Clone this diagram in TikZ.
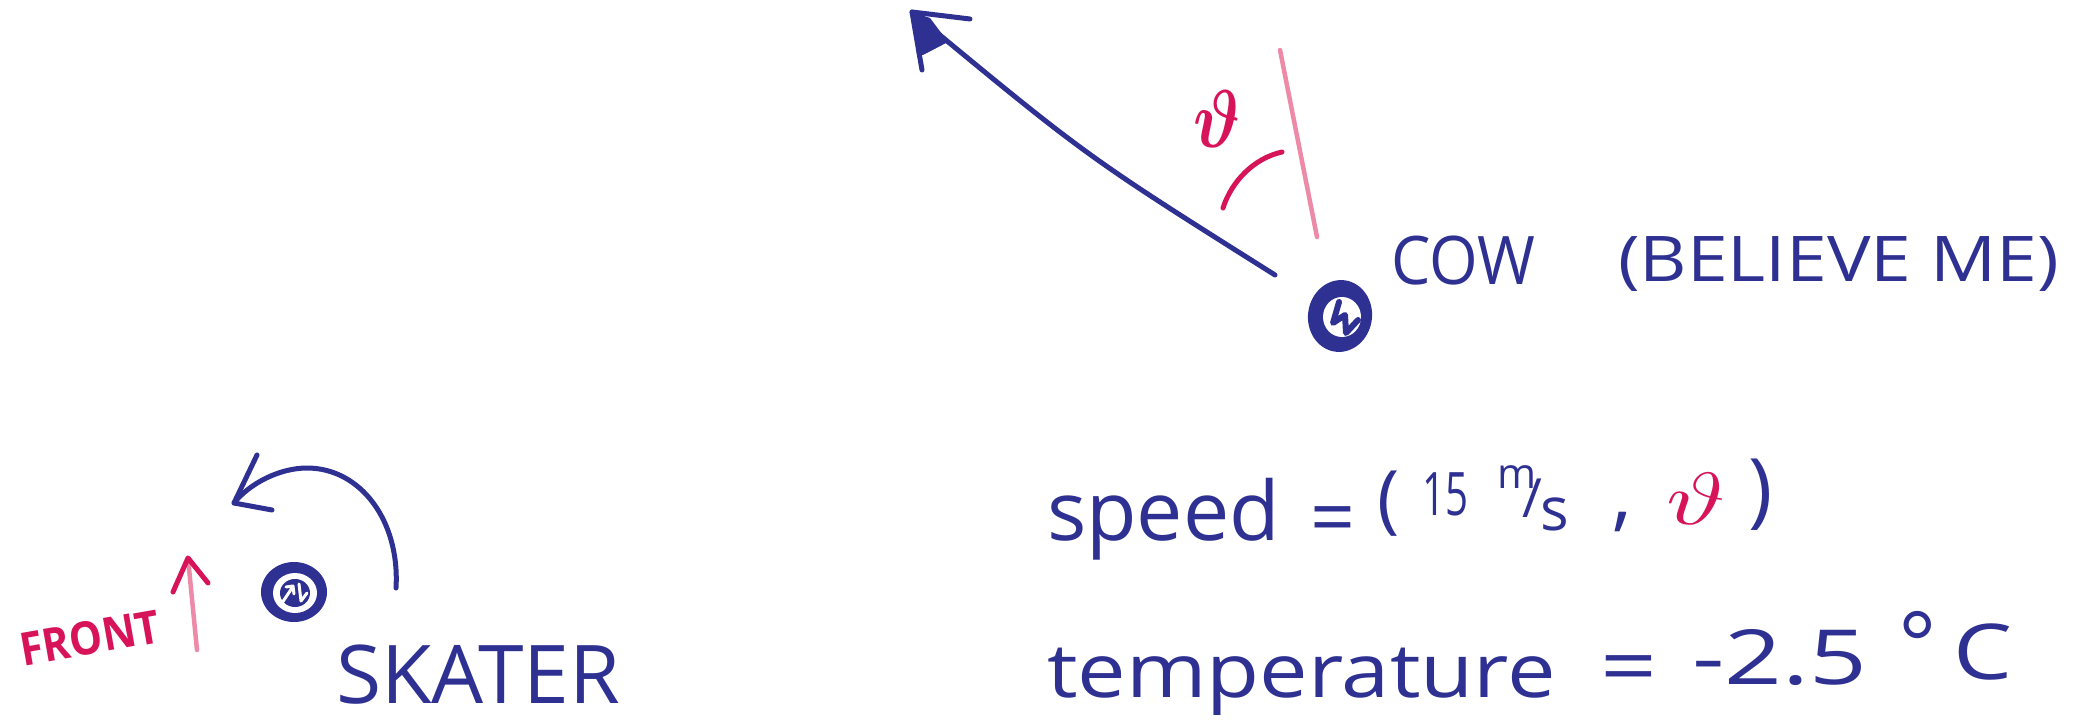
\documentclass[tikz,border=0pt]{standalone}
\usepackage{fontspec}
\setmainfont{Open Sans}
\usepackage{graphicx}
\usetikzlibrary{shapes.geometric}
\definecolor{inkblue}{HTML}{2E3192}
\definecolor{inkred}{HTML}{D7145A}
\definecolor{palered}{HTML}{EC8AA8}
\newcommand{\fitw}[2]{\resizebox{#1}{\height}{#2}}
\newcommand{\fs}[1]{\fontsize{#1}{#1}\selectfont}
\tikzset{
  ink/.style={draw=inkblue, line width=5pt, line cap=round, line join=round},
  redink/.style={draw=inkred, line width=5pt, line cap=round, line join=round},
  paleink/.style={draw=palered, line width=4.5pt, line cap=round},
  txt/.style={inner sep=0pt, outer sep=0pt, text=inkblue, anchor=base west},
  txtb/.style={inner sep=0pt, outer sep=0pt, text=inkblue, anchor=base},
  txtc/.style={inner sep=0pt, outer sep=0pt, text=inkblue, anchor=center},
  dotmark/.style={fill=inkblue, inner sep=0pt, outer sep=0pt}
}
\begin{document}
\begin{tikzpicture}[x=1pt,y=-1pt]
\useasboundingbox (0,0) rectangle (2091,727);

% ---------- cow ----------
\node[dotmark, ellipse, minimum width=64pt, minimum height=72pt, rotate=-8] (cow) at (1340,316) {};
\fill[white] (1342,317) ellipse [x radius=19, y radius=20];
\draw[inkblue, line width=6pt, line cap=round, line join=round]
  (1339,302) -- (1333,323) -- (1345,315) -- (1346,333) -- (1358,320);
\node[txt] (cowlabel) at (1391,285) {\fs{67}\fitw{144pt}{COW}};
\node[txt] (believe) at (1618,282) {\fs{63}\fitw{441pt}{(BELIEVE ME)}};

\coordinate (cowA) at (1275,275);
\coordinate (cowB) at (948,42);
\coordinate (cowT) at (912,12);
\draw[ink] (cowA) .. controls (1086,156) .. (cowT);
\fill[inkblue] (cowT) -- (930,18) -- (cowB) -- (923,55) -- (917,55) -- cycle;
\draw[ink] (970,19) -- (cowT) -- (922,70);

% angle marker
\coordinate (vtop) at (1280,50);
\coordinate (vbot) at (1317,237);
\draw[paleink] (vtop) -- (vbot);
\coordinate (arcA) at (1223,208);
\coordinate (arcB) at (1282,152);
\draw[redink] (arcA) .. controls (1232,180) and (1255,158) .. (arcB);
\node[txtc, text=inkred] (theta1) at (1217,119) {\scalebox{6.8}[8.2]{\boldmath$\vartheta$}};

% ---------- skater ----------
\node[dotmark, ellipse, minimum width=66pt, minimum height=60pt] (skater) at (294,592) {};
\fill[white] (295,593) ellipse [x radius=22, y radius=20];
\fill[inkblue] (295,593) ellipse [x radius=15, y radius=14];
\draw[white, line width=3pt, line cap=round, line join=round]
  (282,603) -- (292,588) (286,587) -- (293,586) -- (294,594)
  (299,584) -- (301,601) -- (307,593);

\coordinate (rotS) at (396,588);
\coordinate (rotT) at (234,503);
\draw[ink] (rotS) .. controls (400,520) and (360,468) .. (307,468)
               .. controls (280,468) and (250,483) .. (rotT);
\draw[ink] (257,455) -- (rotT) -- (272,510);
\node[txt] (skaterlabel) at (336,703) {\fs{81}\fitw{284pt}{SKATER}};

% front arrow
\coordinate (frontB) at (197,650);
\coordinate (frontT) at (188,558);
\draw[paleink] (frontB) -- (frontT);
\draw[redink, line width=5pt] (173,592) -- (frontT) -- (208,583);
\node[txtc, text=inkred, rotate=10] (frontlabel) at (90,638) {\fs{46}\bfseries\fitw{141pt}{FRONT}};

% ---------- speed line ----------
\node[txt] (speed) at (1047,540) {\fs{82}\fitw{233pt}{speed}};
\node[txt] (eq1) at (1310,545) {\fs{80}\fitw{45pt}{=}};
\node[txtb] (lp) at (1389,524) {\fs{75}(};
\node[txt] (fifteen) at (1422,515) {\fs{60}\fitw{46pt}{15}};
\node[txt] (unitm) at (1497,488) {\fs{42}m};
\node[txt] (slash) at (1522,517) {\fs{54}/};
\node[txt] (units) at (1540,530) {\fs{60}s};
\node[txt] (comma) at (1612,521) {\fs{80},};
\node[txtc, text=inkred] (theta2) at (1696,499) {\scalebox{10}[7.4]{$\vartheta$}};
\node[txtb] (rp) at (1761,517) {\fs{82})};

% ---------- temperature line ----------
\node[txt] (temp) at (1047,697) {\fs{75}\fitw{509pt}{temperature}};
\node[txt] (eq2) at (1600,694) {\fs{80}\fitw{57pt}{=}};
\node[txt] (val) at (1692,684) {\fs{76}\fitw{175pt}{-2.5}};
\node[txtb] (deg) at (1918,676) {\fs{90}°};
\node[txt] (cel) at (1953,679) {\fs{77}\fitw{59pt}{C}};
\end{tikzpicture}
\end{document}
